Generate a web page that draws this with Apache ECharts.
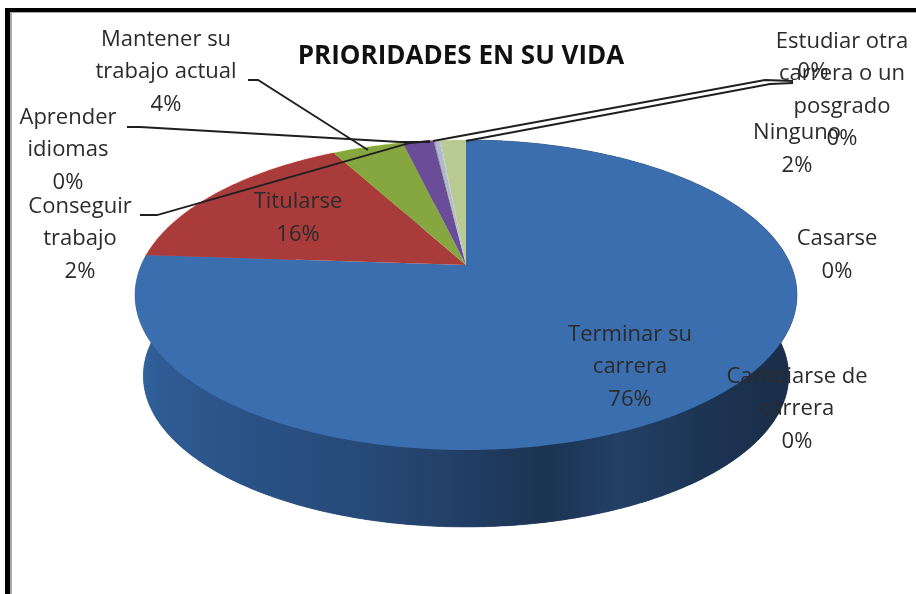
<!DOCTYPE html>
<html><head><meta charset="utf-8">
<style>html,body{margin:0;padding:0;background:#fff}#c{width:916px;height:594px}</style>
<script src="https://cdn.jsdelivr.net/npm/echarts@6/dist/echarts.min.js"></script>
</head><body><div id="c"></div>
<script>
// ---- data (clockwise from 12 o'clock)
const categories = ['Terminar su\ncarrera','Titularse','Mantener su\ntrabajo actual','Conseguir\ntrabajo','Aprender\nidiomas','Estudiar otra\ncarrera o un\nposgrado','Cambiarse de\ncarrera','Casarse','Ninguno',''];
const values = [76,16,4.2,1.8,0.05,0.05,0.25,0.05,1.5,0];
const title = 'PRIORIDADES EN SU VIDA';

// ---- styling / layout, separate from the data
const colors = ['#3b6eae','#a93c3a','#86a63f','#6a4c98','#4198af','#db843d','#a9b8dc','#c9b4c8','#b8cb92','#7f7f7f'];
const labelCenters = [[630,367],[298,218],[166,72],[80,239],[68,150],[842,90],[797,409],[837,255],[797,149],[813,72]];
const leaders = [
  [[248,80],[258,80],[368,150]],
  [[127,127],[140,127],[400,142],[430,142]],
  [[140,215],[157,215],[410,143],[430,141]],
  [[793,81],[765,80],[433,141]],
  [[793,83],[770,84],[466,141]]
];
const CX=466, APEX=265, A=324.7, C=149.2, B=0.1935, DEPTH_SCALE=0.975, APEX2=346.6;
const wallStops=[[0,'#3566a3'],[0.03,'#2e5c94'],[0.18,'#2a5185'],[0.34,'#264a78'],[0.46,'#23416a'],[0.62,'#1c3352'],[0.73,'#234065'],[0.89,'#1c3250'],[1,'#1a2d48']];

const total = values.reduce((a,b)=>a+b,0);
function rim(t,bottom){
  const s=Math.sin(t),c=Math.cos(t),d=1+B*c,k=bottom?DEPTH_SCALE:1,y0=bottom?APEX2:APEX;
  return [CX+A*k*s/d, y0-C*k*c/d];
}
function arc(a0,a1,bottom){
  const n=Math.max(2,Math.ceil(Math.abs(a1-a0)/0.01)),p=[];
  for(let i=0;i<=n;i++)p.push(rim(a0+(a1-a0)*i/n,bottom));
  return p;
}
function angles(idx){
  let sum=0;for(let i=0;i<idx;i++)sum+=values[i];
  return [sum/total*2*Math.PI,(sum+values[idx])/total*2*Math.PI];
}
const rows=values.map((v,i)=>[i,v]);
const chart=echarts.init(document.getElementById('c'),null,{renderer:'canvas'});
chart.setOption({
  animation:false,
  backgroundColor:'#ffffff',
  title:{text:title,left:456,top:39,textAlign:'center',textStyle:{fontFamily:'Open Sans',fontWeight:'bold',fontSize:26,color:'#111'}},
  graphic:{elements:[
    {type:'rect',z:200,shape:{x:5,y:8,width:5,height:586},style:{fill:'#000'}},
    {type:'rect',z:200,shape:{x:10,y:12,width:2,height:582},style:{fill:'#aaa'}},
    {type:'rect',z:200,shape:{x:5,y:8,width:911,height:4},style:{fill:'#000'}},
    {type:'rect',z:200,shape:{x:10,y:12,width:906,height:1},style:{fill:'#aaa'}},
  ].concat(leaders.map(p=>({type:'polyline',z:150,shape:{points:p},style:{stroke:'#1f1f1f',lineWidth:1.8,fill:null}})))},
  series:[
    {type:'custom',coordinateSystem:'none',z:1,data:rows,renderItem(params,api){
      const i=api.value(0),[a0,a1]=angles(i);
      if(a1<=a0)return null;
      const pts=arc(a0,a1,false).concat(arc(a0,a1,true).reverse());
      const disc=[i===0?[CX,APEX2]:null].filter(Boolean).concat(arc(a0,a1,true));
      const fill=i===0?{type:'linear',global:true,x:136,y:0,x2:797,y2:0,colorStops:wallStops.map(s=>({offset:s[0],color:s[1]}))}:echarts.color.lift(colors[i],-0.4);
      return {type:'group',children:[
        {type:'polygon',shape:{points:disc},style:{fill}},
        {type:'polygon',shape:{points:pts},style:{fill,stroke:fill,lineWidth:0.5}}
      ]};
    }},
    {type:'custom',coordinateSystem:'none',z:2,data:rows,renderItem(params,api){
      const i=api.value(0),[a0,a1]=angles(i);
      if(a1<=a0)return null;
      return {type:'polygon',shape:{points:[[CX,APEX]].concat(arc(a0,a1,false))},style:{fill:colors[i]}};
    }},
    {type:'custom',coordinateSystem:'none',z:3,data:rows,renderItem(params,api){
      const i=api.value(0);
      const name=categories[i],pct=Math.round(api.value(1)/total*100)+'%';
      return {type:'text',x:labelCenters[i][0],y:labelCenters[i][1],style:{
        text:(name?name+'\n':'')+pct,align:'center',verticalAlign:'middle',
        font:'22px "Open Sans"',lineHeight:32.5,fill:'#2b2b2b'}};
    }}
  ]
});
</script></body></html>
